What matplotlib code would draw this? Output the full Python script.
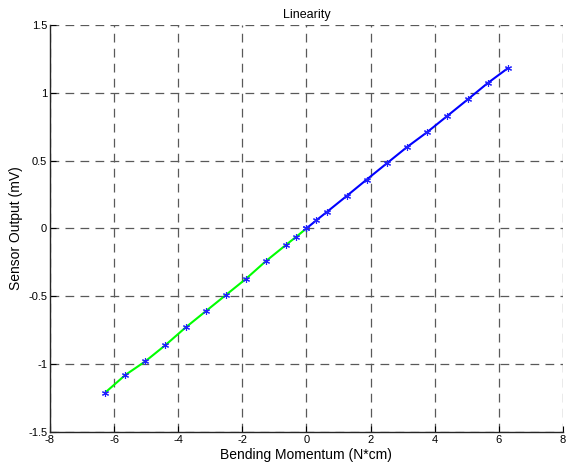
import numpy as np
import matplotlib
matplotlib.use('Agg')
import matplotlib.pyplot as plt
from matplotlib.ticker import FuncFormatter

# bending momentum (N*cm) and sensor output (mV)
x_pos = [0, 0.31, 0.63, 1.26, 1.88, 2.51, 3.14, 3.77, 4.40, 5.03, 5.65, 6.28]
y_pos = [0, 0.06, 0.12, 0.24, 0.36, 0.48, 0.60, 0.71, 0.83, 0.95, 1.07, 1.18]
x_neg = [0, -0.31, -0.63, -1.26, -1.88, -2.51, -3.14, -3.77, -4.40, -5.03, -5.65, -6.28]
y_neg = [0, -0.06, -0.12, -0.24, -0.37, -0.49, -0.61, -0.73, -0.86, -0.98, -1.08, -1.21]

xticks = np.arange(-8, 9, 2)
yticks = np.arange(-1.5, 1.6, 0.5)

plt.rcParams['font.family'] = ['Liberation Sans', 'DejaVu Sans']

fig = plt.figure(figsize=(5.68, 4.74), dpi=100)
ax = fig.add_axes([0.088, 0.0886, 0.903, 0.859])

ax.plot(x_neg, y_neg, color='#00ff00', lw=1.5, zorder=3)
ax.plot(x_pos, y_pos, color='#0000ff', lw=1.5, zorder=3)
ax.plot(x_neg, y_neg, ls='none', marker=(6, 2, 0), ms=5, mec='#2020ff', mew=0.8, zorder=4)
ax.plot(x_pos, y_pos, ls='none', marker=(6, 2, 0), ms=5, mec='#2020ff', mew=0.8, zorder=4)

ax.set_xlim(-8, 8)
ax.set_ylim(-1.5, 1.5)
ax.set_xticks(xticks)
ax.set_yticks(yticks)
fmt = FuncFormatter(lambda v, p: '%g' % v)
ax.xaxis.set_major_formatter(fmt)
ax.yaxis.set_major_formatter(fmt)
ax.tick_params(direction='in', length=4, labelsize=8, top=False, right=False, pad=2)

ax.grid(True, color='0.35', ls=(0, (7, 5)), lw=0.9)
ax.spines['top'].set_visible(False)
ax.spines['right'].set_visible(False)
for s in ['left', 'bottom']:
    ax.spines[s].set_linewidth(1.0)
    ax.spines[s].set_color('0.15')

ax.set_title('Linearity', fontsize=9, pad=5)
ax.set_xlabel('Bending Momentum (N*cm)', fontsize=10, labelpad=2)
ax.set_ylabel('Sensor Output (mV)', fontsize=10, labelpad=4)

fig.savefig('out.png', dpi=100)
